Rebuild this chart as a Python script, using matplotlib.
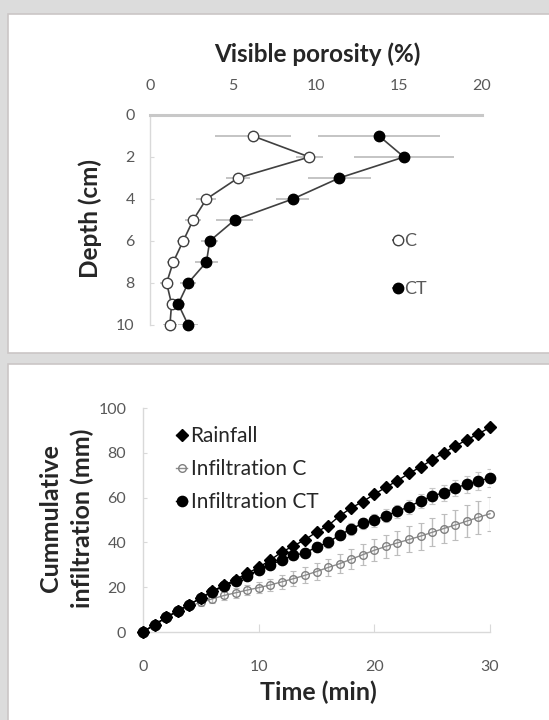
import matplotlib
matplotlib.use("Agg")
import matplotlib.pyplot as plt
from matplotlib.patches import Rectangle

plt.rcParams['font.family'] = ['Lato', 'DejaVu Sans']

# ---------------- data: top panel ----------------
depth = [1, 2, 3, 4, 5, 6, 7, 8, 9, 10]
por_C = [6.2, 9.6, 5.3, 3.4, 2.6, 2.0, 1.4, 1.0, 1.3, 1.2]
por_C_err = [2.3, 0.8, 0.7, 0.6, 0.5, 0.4, 0.4, 0.4, 0.3, 0.4]
por_CT = [13.8, 15.3, 11.4, 8.6, 5.1, 3.6, 3.4, 2.3, 1.7, 2.3]
por_CT_err = [3.7, 3.0, 1.9, 1.0, 1.1, 0.5, 0.7, 0.5, 0.4, 0.6]
por_xticks = [0, 5, 10, 15, 20]
depth_ticks = [0, 2, 4, 6, 8, 10]

# ---------------- data: bottom panel ----------------
time_min = list(range(0, 31))
rainfall = [0, 3.3, 6.5, 9.4, 12.2, 15.2, 18.3, 20.8, 23.4, 26.2, 28.8,
            32.1, 35.7, 38.4, 41.2, 44.6, 47.5, 51.8, 55.4, 58.2, 61.5,
            64.6, 67.6, 70.8, 73.7, 76.8, 80.0, 83.0, 85.8, 88.5, 91.3]
infil_CT = [0, 3.3, 6.5, 9.4, 12.2, 15.2, 18.0, 20.5, 22.8, 25.2, 27.6,
            30.0, 32.1, 34.2, 35.3, 37.9, 40.0, 43.3, 46.0, 48.5, 49.8,
            52.0, 53.8, 56.0, 58.5, 60.7, 62.2, 64.3, 66.0, 67.4, 68.8]
infil_CT_err = [0, 0.2, 0.4, 0.5, 0.7, 0.8, 1.0, 1.1, 1.3, 1.4, 1.5,
                1.7, 1.8, 1.9, 2.0, 2.1, 2.3, 2.4, 2.5, 2.6, 2.8,
                2.9, 3.0, 3.1, 3.3, 3.4, 3.5, 3.6, 3.8, 3.9, 4.0]
infil_C = [0, 3.2, 6.3, 9.0, 11.5, 13.3, 14.8, 16.3, 17.5, 18.7, 19.8,
           21.0, 22.4, 23.8, 25.3, 27.0, 28.8, 30.5, 32.5, 34.5, 36.5,
           38.2, 39.8, 41.3, 42.8, 44.5, 46.2, 47.8, 49.5, 51.2, 52.8]
infil_C_err = [0, 0.3, 0.6, 0.9, 1.2, 1.5, 1.8, 2.0, 2.2, 2.4, 2.6,
               2.8, 3.0, 3.3, 3.5, 3.8, 4.0, 4.3, 4.5, 4.8, 5.0,
               5.3, 5.5, 5.8, 6.0, 6.3, 6.5, 6.8, 7.0, 7.3, 7.5]
time_ticks = [0, 10, 20, 30]
infil_ticks = [0, 20, 40, 60, 80, 100]

W, H = 549, 720
fig = plt.figure(figsize=(W / 100, H / 100), dpi=100, facecolor='#dcdcdc')

def px_rect(x0, y0, x1, y1):
    return Rectangle((x0 / W, 1 - y1 / H), (x1 - x0) / W, (y1 - y0) / H,
                     transform=fig.transFigure, facecolor='white',
                     edgecolor='#cbc6c6', lw=1.2, zorder=-10)

fig.patches.append(px_rect(8, 14, 560, 353))
fig.patches.append(px_rect(8, 364, 560, 740))

TICK_C = '#595959'
GRID_C = '#d9d9d9'
TICK_FS = 11.5
LAB_FS = 17.5

# ---------------- top axes ----------------
ax1 = fig.add_axes([150 / W, 1 - 325 / H, 332 / W, 210 / H])
ax1.set_zorder(1)
ax1.set_facecolor('none')
ax1.errorbar(por_C, depth, xerr=por_C_err, fmt='none', ecolor='#c4c4c4',
             elinewidth=1.4, capsize=0, zorder=2)
ax1.errorbar(por_CT, depth, xerr=por_CT_err, fmt='none', ecolor='#c4c4c4',
             elinewidth=1.4, capsize=0, zorder=2)
ax1.plot(por_C, depth, '-o', color='#404040', lw=1.2, ms=7.5,
         mfc='white', mec='#404040', mew=1.0, zorder=4, clip_on=False, label='C')
ax1.plot(por_CT, depth, '-o', color='#404040', lw=1.2, ms=7.5,
         mfc='black', mec='black', zorder=5, clip_on=False, label='CT')
ax1.set_xlim(0, 20)
ax1.set_ylim(10, 0)
ax1.set_xticks(por_xticks)
ax1.set_yticks(depth_ticks)
ax1.xaxis.tick_top()
ax1.tick_params(axis='x', length=0, pad=16, labelsize=TICK_FS, labelcolor=TICK_C)
ax1.tick_params(axis='y', length=3, direction='in', color=GRID_C, pad=11,
                labelsize=TICK_FS, labelcolor=TICK_C)
for s in ['bottom', 'right']:
    ax1.spines[s].set_visible(False)
ax1.spines['top'].set_color('#c8c8c8')
ax1.spines['top'].set_linewidth(2.2)
ax1.spines['left'].set_color(GRID_C)
ax1.spines['left'].set_linewidth(1.0)
ax1.legend(loc='center left', bbox_to_anchor=(0.705, 0.285), frameon=False,
           handlelength=0.55, handletextpad=0.05, labelspacing=1.8,
           fontsize=13, labelcolor=TICK_C, borderpad=0)
fig.text(317 / W, 1 - 54 / H, 'Visible porosity (%)', ha='center', va='center',
         fontsize=LAB_FS, fontweight='bold', color='#262626')
fig.text(90 / W, 1 - 219 / H, 'Depth (cm)', ha='center', va='center',
         rotation=90, fontsize=LAB_FS, fontweight='bold', color='#262626')

# ---------------- bottom axes ----------------
ax2 = fig.add_axes([143 / W, 1 - 632 / H, 347 / W, 224 / H])
ax2.set_zorder(1)
ax2.set_facecolor('none')
ax2.errorbar(time_min, infil_C, yerr=infil_C_err, fmt='none', ecolor='#bdbdbd',
             elinewidth=1.0, capsize=2, capthick=0.8, zorder=2)
ax2.errorbar(time_min, infil_CT, yerr=infil_CT_err, fmt='none', ecolor='#c8c8c8',
             elinewidth=1.0, capsize=2, capthick=0.8, zorder=2)
ax2.plot(time_min, infil_C, '-o', color='#8c8c8c', lw=1.0, ms=5.5,
         mfc='none', mec='#808080', mew=1.0, zorder=3, clip_on=False,
         label='Infiltration C')
ax2.plot(time_min, rainfall, '-D', color='black', lw=1.0, ms=6.3,
         mfc='black', mec='black', zorder=4, clip_on=False, label='Rainfall')
ax2.plot(time_min, infil_CT, '-o', color='black', lw=1.0, ms=7.4,
         mfc='black', mec='black', zorder=5, clip_on=False,
         label='Infiltration CT')
ax2.set_xlim(0, 30)
ax2.set_ylim(0, 100)
ax2.set_xticks(time_ticks)
ax2.set_yticks(infil_ticks)
ax2.tick_params(axis='x', length=6, direction='in', color=GRID_C, pad=20,
                labelsize=TICK_FS, labelcolor=TICK_C)
ax2.tick_params(axis='y', length=3, direction='in', color=GRID_C, pad=12,
                labelsize=TICK_FS, labelcolor=TICK_C)
for s in ['top', 'right']:
    ax2.spines[s].set_visible(False)
for s in ['bottom', 'left']:
    ax2.spines[s].set_color(GRID_C)
    ax2.spines[s].set_linewidth(1.0)
h, l = ax2.get_legend_handles_labels()
order = [l.index('Rainfall'), l.index('Infiltration C'), l.index('Infiltration CT')]
ax2.legend([h[i] for i in order], [l[i] for i in order], loc='upper left',
           bbox_to_anchor=(0.065, 0.965), frameon=False, handlelength=0.55,
           handletextpad=0.15, labelspacing=0.62, fontsize=15,
           labelcolor='#262626', borderpad=0)
fig.text(318 / W, 1 - 692 / H, 'Time (min)', ha='center', va='center',
         fontsize=18, fontweight='bold', color='#262626')
fig.text(66.5 / W, 1 - 518 / H, 'Cummulative\ninfiltration (mm)', ha='center',
         va='center', rotation=90, fontsize=18, fontweight='bold',
         color='#262626', linespacing=1.4)

fig.savefig('out.png', dpi=100, facecolor=fig.get_facecolor())
